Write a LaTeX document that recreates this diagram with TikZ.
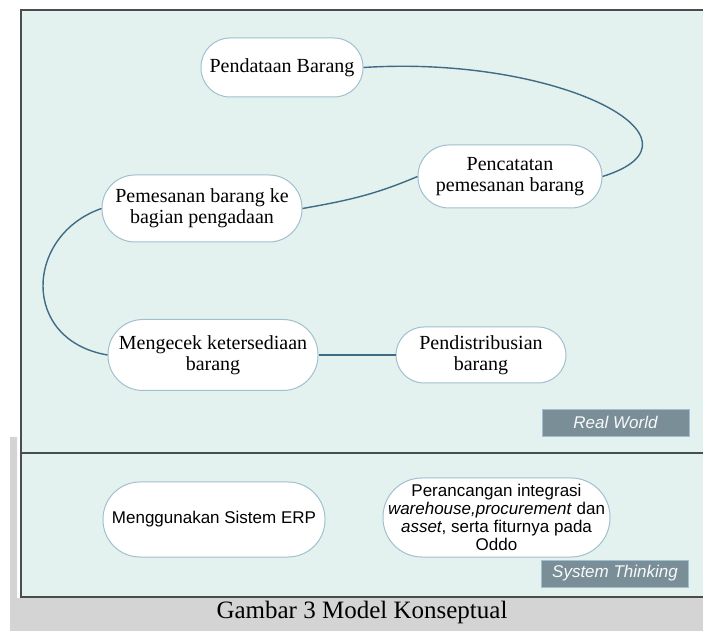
\documentclass[tikz,border=0pt]{standalone}
\usepackage{fontspec}
\setmainfont{Liberation Serif}
\setsansfont{Liberation Sans}
\usetikzlibrary{positioning}

\definecolor{mint}{RGB}{228,242,239}
\definecolor{nodeline}{RGB}{160,192,208}
\definecolor{flow}{RGB}{62,108,135}
\definecolor{tagfill}{RGB}{122,142,152}
\definecolor{frameline}{RGB}{70,78,78}
\definecolor{pagegray}{RGB}{212,212,212}

\begin{document}
\begin{tikzpicture}[
  x=0.5pt, y=-0.5pt,
  proc/.style={rectangle, rounded corners=14pt, draw=nodeline, fill=white, line width=0.5pt,
               align=center, inner sep=0pt, font=\fontsize{10}{10.5}\selectfont},
  idea/.style={proc, rounded corners=18pt, font=\sffamily\fontsize{8.5}{9}\selectfont},
  tag/.style={rectangle, draw=nodeline, fill=tagfill, text=white!95!tagfill,
              font=\sffamily\itshape\fontsize{8.5}{10}\selectfont,
              minimum width=73.5pt, minimum height=13.5pt, inner sep=0pt},
  flowline/.style={draw=flow, line width=0.7pt}
]
\useasboundingbox (0,0) rectangle (703,631);

% page and frame
\fill[pagegray] (10,437) -- (17,437) -- (17,598) -- (703,598) -- (703,631) -- (10,631) -- cycle;
\draw[frameline, fill=mint, line width=0.6pt] (21,10) rectangle (720,597);
\draw[frameline, line width=0.8pt] (21,453) -- (720,453);

% real world
\node[proc, minimum width=81pt, minimum height=29.5pt, rounded corners=14.5pt] (data) at (282,67.5) {Pendataan Barang};
\node[proc, minimum width=92pt, minimum height=31.5pt, rounded corners=15.5pt] (catat) at (510,176.5) {Pencatatan\\pemesanan barang};
\node[proc, minimum width=100pt, minimum height=33.5pt, rounded corners=16.5pt] (pesan) at (202,208.5) {Pemesanan barang ke\\bagian pengadaan};
\node[proc, minimum width=105pt, minimum height=35.5pt, rounded corners=17.5pt] (cek) at (213,355) {Mengecek ketersediaan\\barang};
\node[proc, minimum width=85pt, minimum height=28pt, right=38.5pt of cek] (distribusi) {Pendistribusian\\barang};

\draw[flowline] (data.east) .. controls (560,55) and (720,140) .. (catat.east);
\draw[flowline] (catat.west) to[out=203, in=10] (pesan.east);
\draw[flowline] (pesan.west) .. controls (25,235) and (20,340) .. (cek.west);
\draw[flowline] (cek) -- (distribusi);

\node[tag] (real) at (615.5,422.5) {Real World};

% system thinking
\node[idea, minimum width=111pt, minimum height=37.5pt, rounded corners=18.5pt] (erp) at (214,519.5) {Menggunakan Sistem ERP};
\node[idea, minimum width=113.5pt, minimum height=39.5pt, rounded corners=19.5pt] (rancang) at (496.5,517.5)
  {Perancangan integrasi\\\textit{warehouse,procurement} dan\\\textit{asset}, serta fiturnya pada\\Oddo};

\node[tag] (sistem) at (615,573.5) {System Thinking};

\node[anchor=base, font=\fontsize{12.5}{14}\selectfont] (judul) at (362,618) {Gambar 3 Model Konseptual};

\end{tikzpicture}
\end{document}
